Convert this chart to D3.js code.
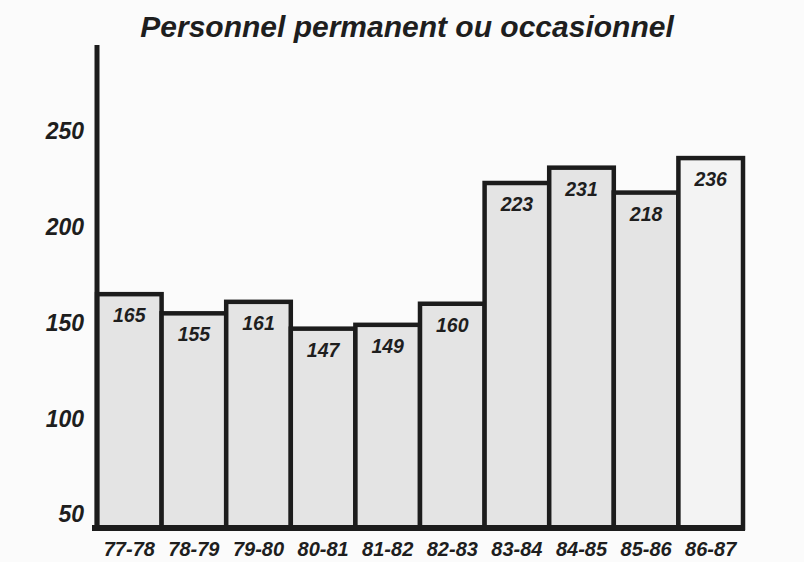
<!DOCTYPE html>
<html>
<head>
<meta charset="utf-8">
<script src="https://cdn.jsdelivr.net/npm/d3@7/dist/d3.min.js"></script>
<style>
  html, body { margin: 0; padding: 0; background: #fbfbfb; }
  svg { display: block; }
  text { font-family: "Liberation Sans", Arial, sans-serif; font-weight: bold; font-style: italic; fill: #1e1e1e; }
</style>
</head>
<body>
<svg id="chart" width="804" height="562"></svg>
<script>
const title = "Personnel permanent ou occasionnel";
const categories = ["77-78", "78-79", "79-80", "80-81", "81-82", "82-83", "83-84", "84-85", "85-86", "86-87"];
const values = [165, 155, 161, 147, 149, 160, 223, 231, 218, 236];
const yTicks = [50, 100, 150, 200, 250];

const svg = d3.select("#chart");
const W = 804, H = 562;

const x = d3.scaleBand().domain(categories).range([97, 743]).padding(0);
const y = d3.scaleLinear().domain([43, 295]).range([528, 45]);

svg.append("rect").attr("width", W).attr("height", H).attr("fill", "#fbfbfb");

// title
svg.append("text")
  .attr("x", 407).attr("y", 37)
  .attr("text-anchor", "middle")
  .attr("font-size", 30)
  .text(title);

// bars
const data = categories.map((c, i) => ({ c, v: values[i], i }));
svg.append("g").selectAll("rect").data(data).join("rect")
  .attr("x", d => x(d.c))
  .attr("y", d => y(d.v))
  .attr("width", x.bandwidth())
  .attr("height", d => y.range()[0] - y(d.v))
  .attr("fill", d => d.i === categories.length - 1 ? "#f3f3f3" : "#e4e4e4")
  .attr("stroke", "#1c1c1c")
  .attr("stroke-width", 4.5);

// value labels
svg.append("g").selectAll("text").data(data).join("text")
  .attr("x", d => x(d.c) + x.bandwidth() / 2)
  .attr("y", d => y(d.v) + 28)
  .attr("text-anchor", "middle")
  .attr("font-size", 19.5)
  .text(d => d.v);

// y axis
const yAxis = d3.axisLeft(y).tickValues(yTicks).tickSize(0).tickPadding(13);
const gy = svg.append("g").attr("transform", "translate(97,0)").call(yAxis);
gy.select(".domain").remove();
gy.selectAll("text")
  .attr("font-size", 23)
  .style("font-family", "'Liberation Sans', Arial, sans-serif")
  .attr("fill", "#1e1e1e");
svg.append("line")
  .attr("x1", 97).attr("x2", 97)
  .attr("y1", y.range()[1]).attr("y2", y.range()[0] + 3)
  .attr("stroke", "#1c1c1c").attr("stroke-width", 5);

// x axis
const xAxis = d3.axisBottom(x).tickSize(0).tickPadding(14);
const gx = svg.append("g").attr("transform", `translate(0,${y.range()[0]})`).call(xAxis);
gx.select(".domain").remove();
gx.selectAll("text")
  .attr("font-size", 20)
  .style("font-family", "'Liberation Sans', Arial, sans-serif")
  .attr("fill", "#1e1e1e");
svg.append("line")
  .attr("x1", 92).attr("x2", 745)
  .attr("y1", y.range()[0]).attr("y2", y.range()[0])
  .attr("stroke", "#1c1c1c").attr("stroke-width", 6);
</script>
</body>
</html>
